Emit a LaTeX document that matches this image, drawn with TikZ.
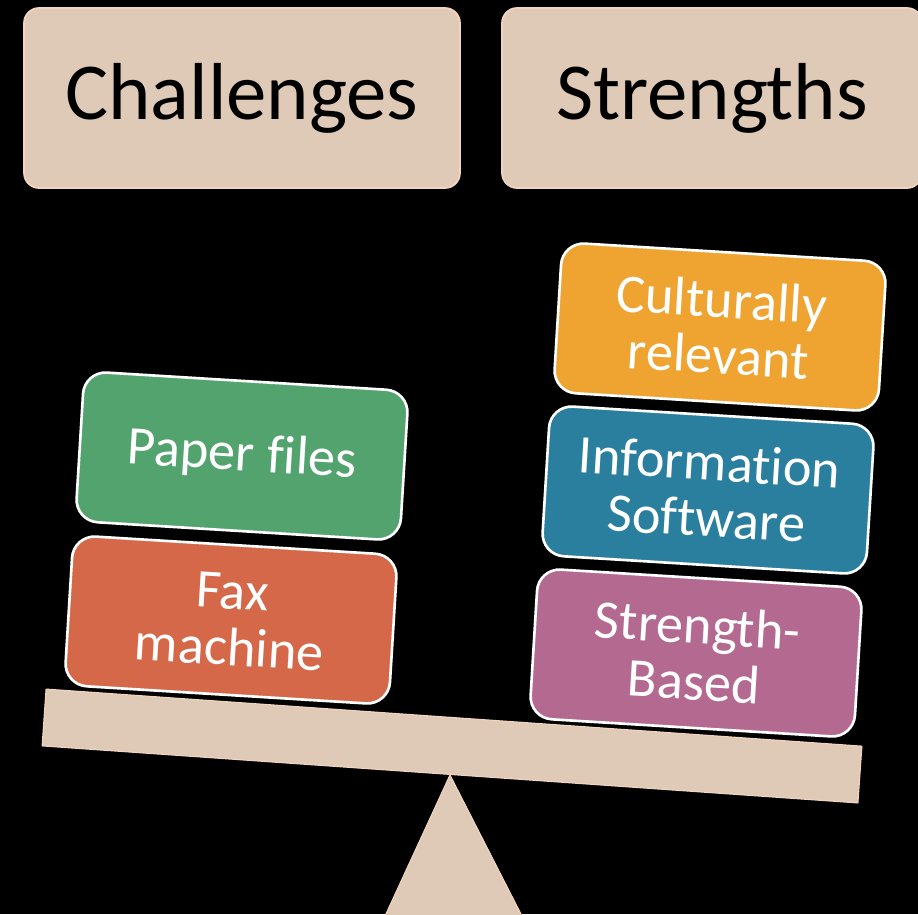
\documentclass[tikz,border=0pt]{standalone}
\usepackage{fontspec}
\setmainfont{Carlito}[Ligatures=NoCommon]
\usetikzlibrary{calc,shapes,positioning}

\definecolor{beige}{HTML}{DFC9B7}
\definecolor{beigeline}{HTML}{F3D5BF}
\definecolor{chgreen}{HTML}{52A36D}
\definecolor{chred}{HTML}{D6684A}
\definecolor{strorange}{HTML}{EFA331}
\definecolor{strblue}{HTML}{2A7F9E}
\definecolor{strpurple}{HTML}{B46A90}

\tikzset{
  header/.style={draw=beigeline,line width=1pt,fill=beige,rounded corners=0.3cm,
    minimum width=#1,minimum height=3.6cm,inner sep=0pt,
    font=\fontsize{46}{50}\selectfont},
  block/.style={draw=white,line width=1.5pt,fill=#1,rounded corners=0.45cm,
    minimum width=6.5cm,minimum height=3cm,inner sep=0pt,align=center,
    text=white,rotate=-3.5,font=\fontsize{31}{32}\selectfont},
  plank/.style={draw=beigeline,line width=0.6pt,fill=beige}
}

\begin{document}
\begin{tikzpicture}[x=0.02cm,y=-0.02cm]

\fill[black] (0,0) rectangle (918,914);
\useasboundingbox (0,0) rectangle (918,914);

\node [header=8.72cm] (chal) at (242,98) {Challenges};
\node [header=8.4cm] (str) at (712,98) {Strengths};

\node [plank,minimum width=16.36cm,minimum height=1.14cm,inner sep=0pt,rotate=-4] (beam) at (452,746) {};
\draw [plank] (beam.south) -- (385,916) -- (522,916) -- cycle;

\begin{scope}
\def\chal{1/{Fax\\machine}/chred,2/{Paper files}/chgreen}
\foreach \i / \element / \col in \chal
  \node [block=\col] (c\i) at ({220+11*\i},{784-164*\i}) {\element};
\end{scope}

\begin{scope}
\def\strs{1/{Strength-\\Based}/strpurple,2/{Information\\Software}/strblue,3/{Culturally\\relevant}/strorange}
\foreach \i / \element / \col in \strs
  \node [block=\col] (s\i) at ({684+12*\i},{816-163*\i}) {\element};
\end{scope}

\end{tikzpicture}
\end{document}
